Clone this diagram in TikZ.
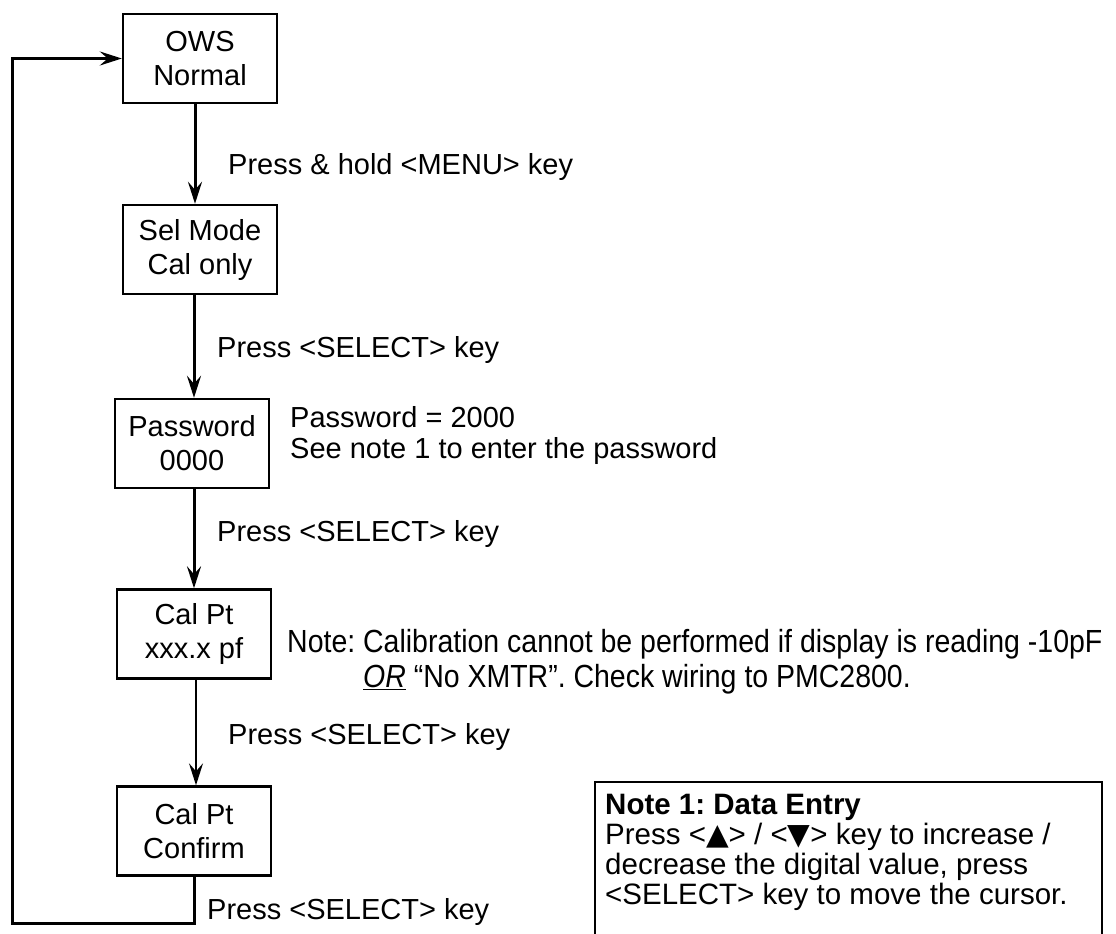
\documentclass[tikz,border=0pt]{standalone}
\usepackage{fontspec}
\setmainfont{Liberation Sans}
\newfontfamily\narrowfont[FakeStretch=0.89]{Liberation Sans}
\newfontfamily\symfont{DejaVu Sans}
\usetikzlibrary{arrows.meta}
\frenchspacing
\begin{document}
\begin{tikzpicture}[x=1pt,y=-1pt,
  box/.style={draw, line width=2.4pt, minimum width=154pt, minimum height=89pt, align=center, inner sep=0pt, font=\fontsize{29}{34}\selectfont},
  lbl/.style={anchor=west, inner sep=0pt, font=\fontsize{29}{31}\selectfont},
  tip/.style={-{Stealth[length=22pt,width=14pt,inset=8pt]}},
  flow/.style={line width=3pt, tip},
  thinflow/.style={line width=2pt, tip}
]
\useasboundingbox (0,0) rectangle (1116,934);
% boxes
\node[box] (ows)  at (200,58.5) {OWS\\Normal};
\node[box] (sel)  at (200,249.5) {Sel Mode\\Cal only};
\node[box] (pwd)  at (192,443.5) {Password\\0000};
\node[box] (cal)  at (194,634) {Cal Pt\\xxx.x pf};
\node[box] (conf) at (194,831) {Cal Pt\\Confirm};
% axes for the vertical arrows
\coordinate (ax) at (195,0);
\coordinate (bx) at (194,0);
\coordinate (cx) at (196,0);
\draw[flow] (ows.south -| ax) -- (sel.north -| ax);
\draw[flow] (sel.south -| bx) -- (pwd.north -| bx);
\draw[flow] (pwd.south -| bx) -- (cal.north -| bx);
\draw[thinflow] (cal.south -| cx) -- (conf.north -| cx);
% return loop
\coordinate (lb) at (12,923);
\draw[flow] (conf.south) |- (lb) |- (ows.west);
% labels
\node[lbl] (l1) at (228,167) {Press \& hold <MENU> key};
\node[lbl] (l2) at (217,350) {Press <SELECT> key};
\node[lbl, align=left] (pn) at (290,435.5) {Password = 2000\\See note 1 to enter the password};
\node[lbl] (l3) at (217,534) {Press <SELECT> key};
\node[lbl, align=left, font=\narrowfont\fontsize{32}{35}\selectfont] (cn) at (287,662)
  {Note: Calibration cannot be performed if display is reading -10pF\\\phantom{Note: }\underline{\textit{OR}} “No XMTR”. Check wiring to PMC2800.};
\node[lbl] (l4) at (228,737) {Press <SELECT> key};
\node[lbl] (l5) at (207,912) {Press <SELECT> key};
% note 1 box (open at the bottom edge of the picture)
\draw[line width=2.4pt] (595,936) |- (1102,782) -- (1102,936);
\node[anchor=west, inner sep=0pt, align=left, font=\fontsize{29.5}{30}\selectfont] (n1t) at (605,852)
  {\textbf{Note 1: Data Entry}\\Press <{\symfont ▲}> / <{\symfont ▼}> key to increase /\\decrease the digital value, press\\<SELECT> key to move the cursor.};
\end{tikzpicture}
\end{document}
